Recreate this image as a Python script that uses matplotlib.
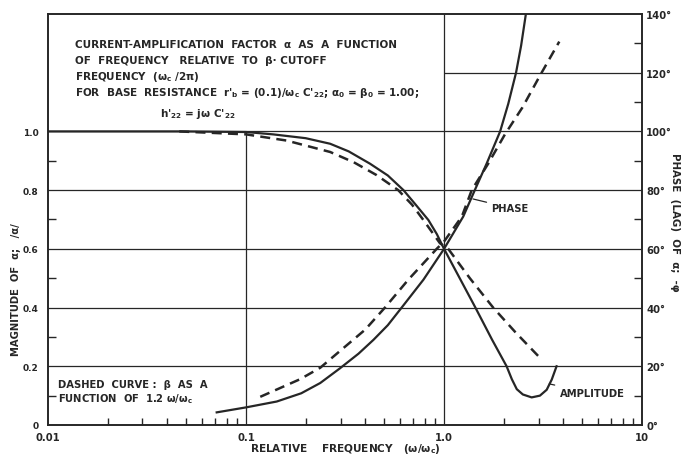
import matplotlib
matplotlib.use('Agg')
import matplotlib.pyplot as plt
from matplotlib.ticker import FixedLocator, NullFormatter

plt.rcParams['font.family'] = ['DejaVu Sans']
plt.rcParams['font.weight'] = 'bold'
plt.rcParams['mathtext.default'] = 'bf'

ink = '#262626'

# solid amplitude |alpha| vs relative frequency
amp_freq = [0.01, 0.05, 0.1, 0.137, 0.2, 0.266, 0.33, 0.423, 0.52, 0.624, 0.72, 0.834, 0.92, 1.0,
            1.2, 1.44, 1.75, 2.07, 2.2, 2.33, 2.5, 2.77, 3.05, 3.3, 3.5, 3.7]
amp_val = [1.0, 1.0, 0.998, 0.99, 0.977, 0.958, 0.932, 0.89, 0.85, 0.80, 0.75, 0.698, 0.65, 0.60,
           0.50, 0.40, 0.29, 0.20, 0.156, 0.122, 0.104, 0.094, 0.10, 0.12, 0.155, 0.20]

# dashed amplitude (beta vs 1.2 w/wc)
damp_freq = [0.046, 0.1, 0.16, 0.266, 0.35, 0.457, 0.587, 0.69, 0.787, 0.954, 1.05, 1.35, 1.77, 2.3, 2.99]
damp_val = [1.0, 0.99, 0.969, 0.93, 0.895, 0.851, 0.80, 0.75, 0.698, 0.619, 0.60, 0.50, 0.40, 0.315, 0.235]

# solid phase (degrees)
ph_freq = [0.0711, 0.1, 0.143, 0.19, 0.237, 0.298, 0.37, 0.44, 0.52, 0.611, 0.787, 1.0, 1.25, 1.43,
           1.64, 1.92, 2.11, 2.31, 2.45, 2.59]
ph_val = [4.3, 6.0, 8.0, 10.8, 14.3, 19.3, 24.3, 29, 34, 40, 49.5, 60, 71, 80,
          89, 100, 109.4, 120, 129.2, 140]

# dashed phase (degrees)
dph_freq = [0.118, 0.1875, 0.237, 0.298, 0.4, 0.503, 0.66, 0.918, 1.0, 1.23, 1.38, 1.67, 2.03, 2.49, 3.05, 3.82]
dph_val = [9.6, 15.6, 19.5, 25.2, 32.5, 40, 49.5, 60, 62.5, 71, 80, 89, 99, 108.2, 119, 130.6]

x_ticks = [0.01, 0.1, 1.0, 10]
x_labels = ['0.01', '0.1', '1.0', '10']
mag_ticks = [0, 0.2, 0.4, 0.6, 0.8, 1.0]
mag_labels = ['0', '0.2', '0.4', '0.6', '0.8', '1.0']
deg_ticks = [0, 20, 40, 60, 80, 100, 120, 140]

fig = plt.figure(figsize=(6.85, 4.56), dpi=100)
ax = fig.add_axes([0.0701, 0.0658, 0.8672, 0.9013])
ax.set_xscale('log')
ax.set_xlim(0.01, 10)
ax.set_ylim(0, 1.4)

# grid as drawn in the original
for y in [0.2, 0.4, 0.6, 0.8, 1.0]:
    ax.axhline(y, color=ink, lw=0.9, zorder=1)
ax.hlines(1.2, 1.0, 10, color=ink, lw=0.9, zorder=1)
ax.vlines(0.1, 0, 1.0, color=ink, lw=0.9, zorder=1)
ax.vlines(1.0, 0, 1.4, color=ink, lw=0.9, zorder=1)

ax.plot(amp_freq, amp_val, color=ink, lw=1.6, zorder=3)
ax.plot(damp_freq, damp_val, color=ink, lw=1.8, dashes=(4, 2.5), zorder=3)

ax2 = ax.twinx()
ax2.set_ylim(0, 140)
ax2.plot(ph_freq, ph_val, color=ink, lw=1.6, zorder=3)
ax2.plot(dph_freq, dph_val, color=ink, lw=1.8, dashes=(4, 2.5), zorder=3)

for a in (ax, ax2):
    for s in a.spines.values():
        s.set_linewidth(1.2)
        s.set_color(ink)

ax.set_xticks(x_ticks)
ax.set_xticklabels(x_labels, fontsize=7.2)
ax.xaxis.set_minor_locator(FixedLocator([m * d for d in [0.01, 0.1, 1.0] for m in range(2, 10)]))
ax.xaxis.set_minor_formatter(NullFormatter())
ax.tick_params(axis='x', which='major', length=0, pad=5, colors=ink)
ax.tick_params(axis='x', which='minor', direction='in', length=5, width=1, colors=ink)

ax.set_yticks(mag_ticks)
ax.set_yticklabels(mag_labels, fontsize=6.5)
ax.yaxis.set_minor_locator(FixedLocator([0.1, 0.3, 0.5, 0.7, 0.9]))
ax.tick_params(axis='y', which='major', length=0, pad=7, colors=ink)
ax.tick_params(axis='y', which='minor', direction='in', length=6, width=1, colors=ink)

ax2.set_yticks(deg_ticks)
ax2.set_yticklabels([f'{d}°' for d in deg_ticks], fontsize=7.2)
ax2.yaxis.set_minor_locator(FixedLocator(list(range(10, 140, 20))))
ax2.tick_params(axis='y', which='major', length=0, pad=3, colors=ink)
ax2.tick_params(axis='y', which='minor', direction='in', length=6, width=1, colors=ink)

# labels
fig.text(345 / 685, 1 - 449 / 456, 'RELATIVE    FREQUENCY   (ω/ω$_c$)', ha='center', va='center',
         fontsize=7.6, color=ink)
fig.text(16 / 685, 1 - 290 / 456, 'MAGNITUDE  OF  α;   /α/', rotation=90, ha='center', va='center',
         fontsize=7.2, color=ink)
fig.text(675 / 685, 1 - 222 / 456, 'PHASE  (LAG)  OF  α;  -φ', rotation=-90, ha='center', va='center',
         fontsize=7.4, color=ink)

title_lines = [
    'CURRENT-AMPLIFICATION  FACTOR  α  AS  A  FUNCTION',
    'OF  FREQUENCY   RELATIVE  TO  β· CUTOFF',
    'FREQUENCY  (ω$_c$ /2π)',
    "FOR  BASE  RESISTANCE  r$'_b$ = (0.1)/ω$_c$ C$'_{22}$; α$_0$ = β$_0$ = 1.00;",
]
for i, line in enumerate(title_lines):
    fig.text(75 / 685, 1 - (45 + 16 * i) / 456, line, ha='left', va='center', fontsize=7.5, color=ink)
fig.text(160 / 685, 1 - 114 / 456, "h$'_{22}$ = jω C$'_{22}$", ha='left', va='center', fontsize=7.5, color=ink)

fig.text(58 / 685, 1 - 385 / 456, 'DASHED  CURVE :  β  AS  A', ha='left', va='center', fontsize=7.2, color=ink)
fig.text(58 / 685, 1 - 399 / 456, 'FUNCTION  OF  1.2 ω/ω$_c$', ha='left', va='center', fontsize=7.2, color=ink)

ax2.annotate('PHASE', xy=(1.4, 77), xytext=(1.72, 74), ha='left', va='center', fontsize=7.2,
             color=ink, arrowprops=dict(arrowstyle='-', color=ink, lw=0.9, shrinkA=1, shrinkB=0))
ax.annotate('AMPLITUDE', xy=(3.4, 0.14), xytext=(3.86, 0.108), ha='left', va='center', fontsize=7.2,
            color=ink, arrowprops=dict(arrowstyle='-', color=ink, lw=0.9, shrinkA=2, shrinkB=0))

fig.savefig('out.png', dpi=100, facecolor='white')
